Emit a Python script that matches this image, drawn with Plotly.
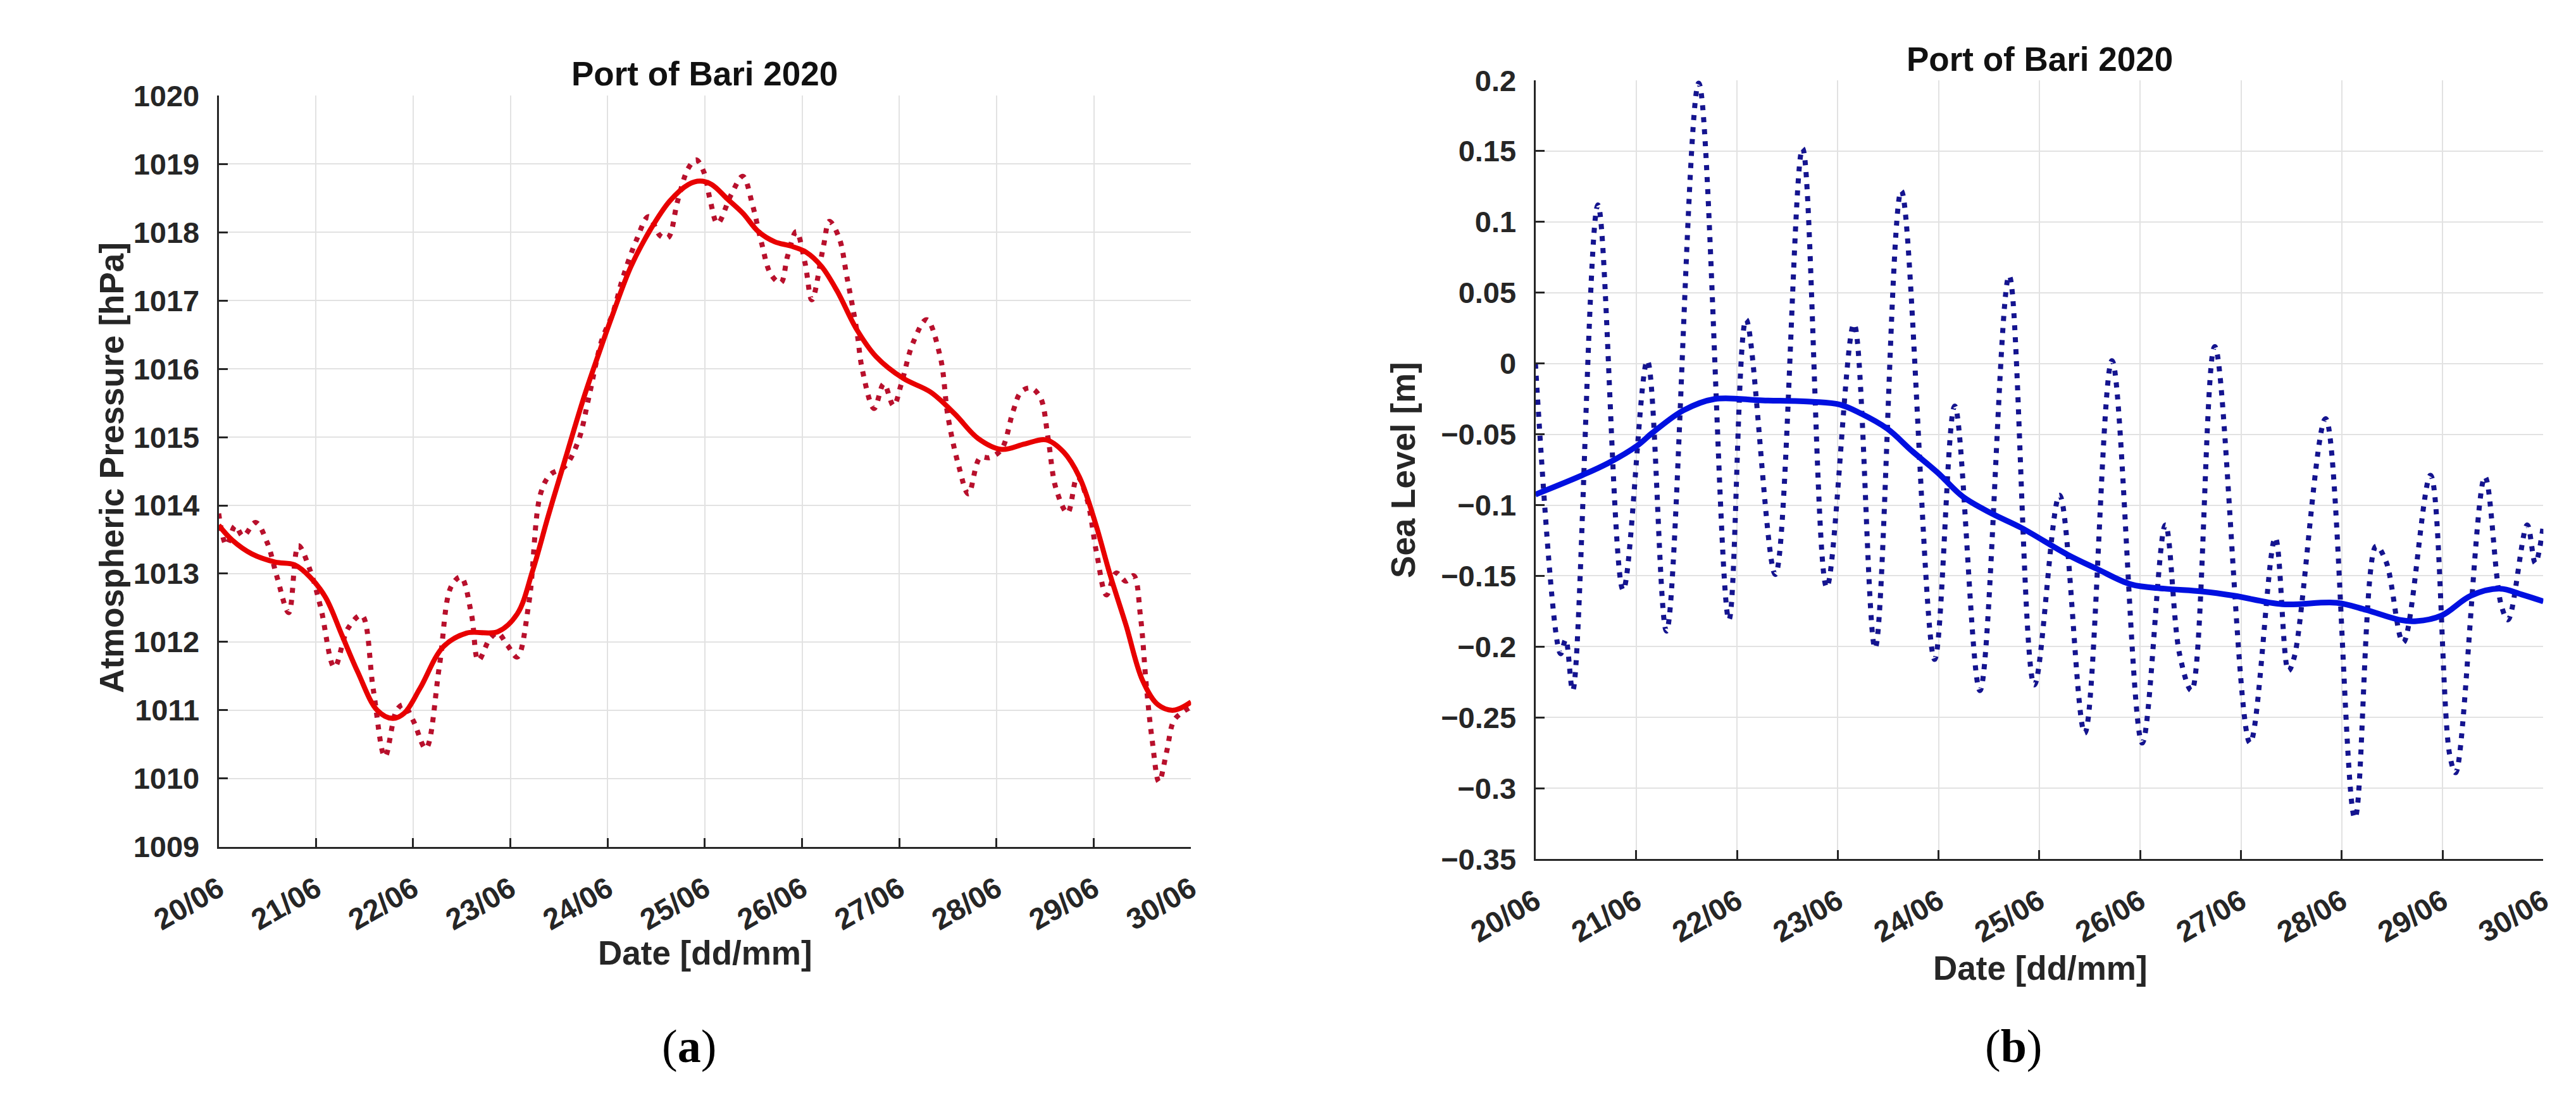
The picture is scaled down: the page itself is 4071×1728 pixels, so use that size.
import numpy as np
import pandas as pd
import plotly.graph_objects as go

# ---------------- data ----------------
START = "2020-06-20"
date_ticks_days = [0, 1, 2, 3, 4, 5, 6, 7, 8, 9, 10]
date_tick_labels = ["20/06", "21/06", "22/06", "23/06", "24/06", "25/06",
                    "26/06", "27/06", "28/06", "29/06", "30/06"]

# (a) atmospheric pressure, observed (dotted)
p_obs_day = [0.00, 0.08, 0.17, 0.25, 0.38, 0.50, 0.60, 0.72, 0.82, 0.94, 1.05, 1.19, 1.33, 1.47,
             1.59, 1.71, 1.83, 1.90, 2.00, 2.13, 2.27, 2.39, 2.49, 2.60, 2.67, 2.79, 2.87, 2.97,
             3.07, 3.19, 3.31, 3.41, 3.56, 3.70, 3.80, 3.94, 4.05, 4.16, 4.30, 4.42, 4.54, 4.62,
             4.72, 4.83, 4.91, 4.99, 5.05, 5.13, 5.27, 5.39, 5.49, 5.58, 5.68, 5.78, 5.85, 5.94,
             6.03, 6.10, 6.22, 6.28, 6.38, 6.46, 6.56, 6.62, 6.74, 6.84, 6.94, 7.02, 7.14, 7.28,
             7.42, 7.50, 7.61, 7.71, 7.83, 7.93, 8.05, 8.17, 8.25, 8.35, 8.45, 8.53, 8.61, 8.73,
             8.83, 8.93, 9.03, 9.13, 9.23, 9.33, 9.41, 9.48, 9.54, 9.60, 9.67, 9.75, 9.82, 9.90, 10.0]
p_obs_val = [1013.88, 1013.42, 1013.70, 1013.55, 1013.75, 1013.45, 1012.95, 1012.43, 1013.41, 1013.05,
             1012.50, 1011.63, 1012.20, 1012.39, 1011.30, 1010.32, 1011.00, 1011.08, 1010.85, 1010.44,
             1011.65, 1012.81, 1012.95, 1012.40, 1011.73, 1012.05, 1012.13, 1011.95, 1011.78, 1012.57,
             1014.17, 1014.45, 1014.57, 1014.95, 1015.54, 1016.42, 1016.80, 1017.35, 1017.90, 1018.23,
             1017.95, 1017.92, 1018.46, 1018.94, 1019.06, 1018.88, 1018.50, 1018.13, 1018.55, 1018.82,
             1018.40, 1017.86, 1017.38, 1017.26, 1017.65, 1018.01, 1017.55, 1017.01, 1017.80, 1018.16,
             1017.92, 1017.35, 1016.58, 1015.98, 1015.42, 1015.78, 1015.46, 1015.78, 1016.38, 1016.72,
             1016.18, 1015.30, 1014.58, 1014.17, 1014.70, 1014.70, 1014.82, 1015.38, 1015.66, 1015.72,
             1015.58, 1014.98, 1014.25, 1013.89, 1014.42, 1014.09, 1013.29, 1012.69, 1013.01, 1012.89,
             1012.97, 1012.37, 1011.36, 1010.56, 1009.95, 1010.40, 1010.84, 1010.96, 1011.05]

# (a) atmospheric pressure, low-pass (solid)
p_lp_day = [0.00, 0.14, 0.34, 0.58, 0.78, 0.94, 1.10, 1.27, 1.43, 1.63, 1.79, 1.91, 2.07, 2.31, 2.55,
            2.87, 3.07, 3.23, 3.39, 3.56, 3.76, 3.94, 4.04, 4.24, 4.44, 4.64, 4.83, 4.95, 5.07, 5.23,
            5.39, 5.55, 5.72, 5.88, 6.04, 6.20, 6.36, 6.56, 6.76, 7.04, 7.32, 7.57, 7.81, 8.05, 8.29,
            8.51, 8.69, 8.85, 9.01, 9.17, 9.33, 9.50, 9.66, 9.82, 10.0]
p_lp_val = [1013.71, 1013.49, 1013.29, 1013.17, 1013.13, 1012.95, 1012.65, 1012.09, 1011.56, 1011.00,
            1010.88, 1010.96, 1011.32, 1011.93, 1012.13, 1012.15, 1012.41, 1013.05, 1013.85, 1014.66,
            1015.60, 1016.35, 1016.75, 1017.50, 1018.04, 1018.46, 1018.70, 1018.75, 1018.70, 1018.49,
            1018.28, 1018.01, 1017.86, 1017.80, 1017.71, 1017.50, 1017.14, 1016.58, 1016.18, 1015.86,
            1015.66, 1015.34, 1014.98, 1014.82, 1014.90, 1014.96, 1014.78, 1014.42, 1013.77, 1012.97,
            1012.25, 1011.44, 1011.08, 1011.00, 1011.12]

# (b) sea level, observed (dotted)
s_obs_day = [0.00, 0.25, 0.30, 0.37, 0.62, 0.87, 1.11, 1.30, 1.62, 1.92, 2.09, 2.38, 2.65, 2.89, 3.16,
             3.37, 3.63, 3.96, 4.16, 4.41, 4.70, 4.95, 5.20, 5.45, 5.72, 6.02, 6.25, 6.39, 6.51, 6.74,
             7.09, 7.34, 7.47, 7.53, 7.84, 8.13, 8.34, 8.44, 8.61, 8.88, 9.07, 9.13, 9.42, 9.58, 9.65,
             9.84, 9.92, 10.0]
s_obs_val = [0.000, -0.205, -0.195, -0.231, 0.112, -0.160, 0.002, -0.189, 0.198, -0.181, 0.031, -0.149,
             0.152, -0.158, 0.028, -0.201, 0.122, -0.209, -0.030, -0.231, 0.062, -0.227, -0.093, -0.261,
             0.002, -0.268, -0.114, -0.205, -0.231, 0.012, -0.268, -0.123, -0.217, -0.207, -0.039,
             -0.321, -0.129, -0.140, -0.197, -0.079, -0.276, -0.289, -0.080, -0.170, -0.181, -0.114,
             -0.141, -0.114]

# (b) sea level, low-pass (solid)
s_lp_day = [0.00, 0.46, 0.73, 1.01, 1.16, 1.47, 1.78, 2.25, 2.75, 3.02, 3.22, 3.49, 3.74, 3.99, 4.24,
            4.53, 4.82, 5.28, 5.57, 5.91, 6.24, 6.61, 6.93, 7.41, 7.95, 8.24, 8.57, 8.74, 8.99, 9.28,
            9.57, 9.78, 10.0]
s_lp_val = [-0.0925, -0.079, -0.070, -0.058, -0.049, -0.033, -0.025, -0.026, -0.027, -0.029, -0.035,
            -0.046, -0.062, -0.077, -0.094, -0.106, -0.116, -0.135, -0.145, -0.156, -0.159, -0.161,
            -0.164, -0.170, -0.169, -0.174, -0.181, -0.182, -0.178, -0.164, -0.159, -0.163, -0.168]

p_ticks = [1009, 1010, 1011, 1012, 1013, 1014, 1015, 1016, 1017, 1018, 1019, 1020]
s_ticks = [-0.35, -0.3, -0.25, -0.2, -0.15, -0.1, -0.05, 0, 0.05, 0.1, 0.15, 0.2]
s_tick_labels = ["\u22120.35", "\u22120.3", "\u22120.25", "\u22120.2", "\u22120.15", "\u22120.1",
                 "\u22120.05", "0", "0.05", "0.1", "0.15", "0.2"]

# ---------------- helpers ----------------
t0 = pd.Timestamp(START)


def to_time(days):
    return t0 + pd.to_timedelta(np.asarray(days, dtype=float), unit="D")


W, H = 4071, 1728
FONT = "Liberation Sans, Arial, Helvetica, sans-serif"
TICKFONT = dict(family=FONT, size=47, color="#262626", weight="bold")
AXCOL = "#262626"
GRID = "#e2e2e2"

fig = go.Figure()

fig.add_trace(go.Scatter(x=to_time(p_obs_day), y=p_obs_val, mode="lines",
                         line=dict(color="#b8102c", width=8, dash="8px,11px", shape="spline"),
                         xaxis="x", yaxis="y", showlegend=False))
fig.add_trace(go.Scatter(x=to_time(p_lp_day), y=p_lp_val, mode="lines",
                         line=dict(color="#e80000", width=8, shape="spline"),
                         xaxis="x", yaxis="y", showlegend=False))
fig.add_trace(go.Scatter(x=to_time(s_obs_day), y=s_obs_val, mode="lines",
                         line=dict(color="#14148f", width=8, dash="8px,11px", shape="spline"),
                         xaxis="x2", yaxis="y2", showlegend=False))
fig.add_trace(go.Scatter(x=to_time(s_lp_day), y=s_lp_val, mode="lines",
                         line=dict(color="#0010e0", width=9, shape="spline"),
                         xaxis="x2", yaxis="y2", showlegend=False))

xcommon = dict(range=[to_time([0])[0], to_time([10])[0]],
               tickmode="array", tickvals=list(to_time(date_ticks_days)), ticktext=date_tick_labels,
               tickangle=-30, tickfont=TICKFONT, ticks="inside", ticklen=14, tickwidth=3,
               tickcolor=AXCOL, showline=True, linecolor=AXCOL, linewidth=3,
               showgrid=True, gridcolor=GRID, gridwidth=2, zeroline=False,
               ticklabelstandoff=18, fixedrange=True)
ycommon = dict(tickfont=TICKFONT, ticks="inside", ticklen=14, tickwidth=3, tickcolor=AXCOL,
               showline=True, linecolor=AXCOL, linewidth=3, showgrid=True, gridcolor=GRID,
               gridwidth=2, zeroline=False, ticklabelstandoff=18, fixedrange=True)

fig.update_layout(
    width=W, height=H, autosize=False,
    margin=dict(l=0, r=0, t=0, b=0),
    paper_bgcolor="white", plot_bgcolor="white",
    xaxis=dict(domain=[233 / W, 1820 / W], anchor="y", **xcommon),
    yaxis=dict(domain=[1 - 1345 / H, 1 - 120 / H], anchor="x", range=[1009, 1020],
               tickmode="array", tickvals=p_ticks, ticktext=[str(v) for v in p_ticks], **ycommon),
    xaxis2=dict(domain=[2382 / W, 4027 / W], anchor="y2", **xcommon),
    yaxis2=dict(domain=[1 - 1365 / H, 1 - 95 / H], anchor="x2", range=[-0.35, 0.2],
                tickmode="array", tickvals=s_ticks, ticktext=s_tick_labels, **ycommon),
)

TITLEFONT = dict(family=FONT, size=53, color="#111111", weight="bold")
LABELFONT = dict(family=FONT, size=53, color="#262626", weight="bold")
SERIF = "Liberation Serif, Times New Roman, serif"

ann = [
    dict(text="Port of Bari 2020", x=1026 / W, y=1 - 84 / H, font=TITLEFONT),
    dict(text="Port of Bari 2020", x=3205 / W, y=1 - 60 / H, font=TITLEFONT),
    dict(text="Atmospheric Pressure [hPa]", x=59 / W, y=1 - 727 / H, textangle=-90, font=LABELFONT),
    dict(text="Sea Level [m]", x=2166 / W, y=1 - 730 / H, textangle=-90, font=LABELFONT),
    dict(text="Date [dd/mm]", x=1027 / W, y=1 - 1518 / H, font=LABELFONT),
    dict(text="Date [dd/mm]", x=3206 / W, y=1 - 1543 / H, font=LABELFONT),
    dict(text="(<b>a</b>)", x=1001 / W, y=1 - 1670 / H,
         font=dict(family=SERIF, size=74, color="black")),
    dict(text="(<b>b</b>)", x=3162 / W, y=1 - 1670 / H,
         font=dict(family=SERIF, size=74, color="black")),
]
for a in ann:
    a.update(xref="paper", yref="paper", showarrow=False, xanchor="center", yanchor="middle")
fig.update_layout(annotations=ann)

fig.write_html("out.html")
